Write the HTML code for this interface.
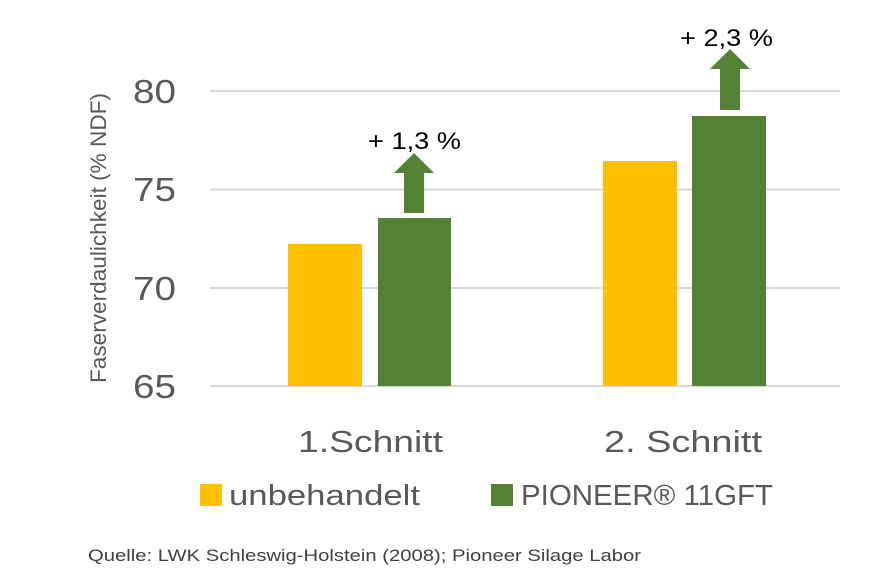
<!DOCTYPE html>
<html><head><meta charset="utf-8"><style>body{margin:0;background:#fff}svg{display:block}</style></head><body>
<svg width="892" height="587" xmlns="http://www.w3.org/2000/svg" font-family="Liberation Sans, sans-serif">
<g stroke="#d9d9d9" stroke-width="2">
<line x1="210" y1="91" x2="840" y2="91"/><line x1="210" y1="189.5" x2="840" y2="189.5"/>
<line x1="210" y1="288" x2="840" y2="288"/><line x1="210" y1="386" x2="840" y2="386"/>
</g>
<g fill="#595959" font-size="33" text-anchor="end">
<text x="176" y="103" textLength="43" lengthAdjust="spacingAndGlyphs">80</text><text x="176" y="201" textLength="43" lengthAdjust="spacingAndGlyphs">75</text><text x="176" y="300" textLength="43" lengthAdjust="spacingAndGlyphs">70</text><text x="176" y="398" textLength="43" lengthAdjust="spacingAndGlyphs">65</text>
</g>
<text transform="translate(106,238) rotate(-90)" font-size="22" fill="#595959" text-anchor="middle" textLength="290" lengthAdjust="spacingAndGlyphs">Faserverdaulichkeit (% NDF)</text>
<rect x="288" y="244" width="74" height="142" fill="#ffc000"/>
<rect x="378" y="218" width="73" height="168" fill="#548235"/>
<rect x="603" y="161" width="74" height="225" fill="#ffc000"/>
<rect x="692" y="116" width="74" height="270" fill="#548235"/>
<polygon points="404,213 424,213 424,173 434,173 414,153 394,173 404,173" fill="#548235"/>
<polygon points="720,110 740,110 740,69 750,69 730,49 710,69 720,69" fill="#548235"/>
<g font-size="24" fill="#000">
<text x="368" y="149" textLength="93" lengthAdjust="spacingAndGlyphs">+ 1,3 %</text><text x="680" y="46" textLength="93" lengthAdjust="spacingAndGlyphs">+ 2,3 %</text>
</g>
<g font-size="31" fill="#595959">
<text x="298" y="452" textLength="145" lengthAdjust="spacingAndGlyphs">1.Schnitt</text><text x="604" y="452" textLength="158" lengthAdjust="spacingAndGlyphs">2. Schnitt</text>
</g>
<rect x="200" y="484" width="22" height="22" fill="#ffc000"/>
<text x="229" y="505" font-size="29" fill="#595959" textLength="191" lengthAdjust="spacingAndGlyphs">unbehandelt</text>
<rect x="491" y="484" width="22" height="22" fill="#548235"/>
<text x="521" y="505" font-size="29" fill="#595959" textLength="252" lengthAdjust="spacingAndGlyphs">PIONEER® 11GFT</text>
<text x="88" y="561" font-size="17" fill="#404040" textLength="553" lengthAdjust="spacingAndGlyphs">Quelle: LWK Schleswig-Holstein (2008); Pioneer Silage Labor</text>
</svg>
</body></html>
